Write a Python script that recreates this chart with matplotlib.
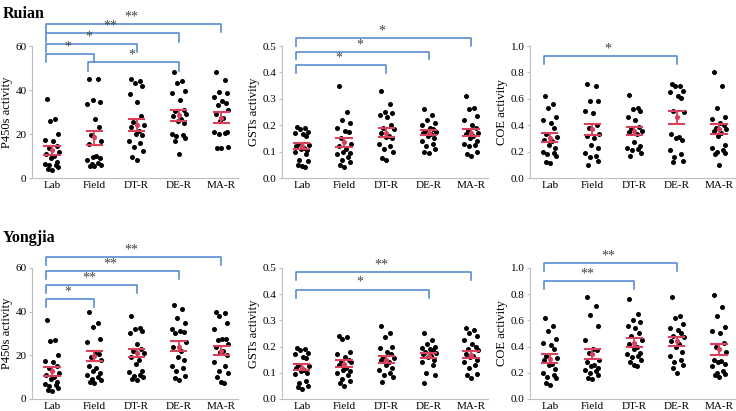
import matplotlib
matplotlib.use("Agg")
import matplotlib.pyplot as plt
import numpy as np

plt.rcParams['font.family'] = ['Liberation Serif', 'DejaVu Serif']

groups = ['Lab', 'Field', 'DT-R', 'DE-R', 'MA-R']

# ---- Ruian ----
ruian_p450 = [
    [36, 27, 26, 20, 17.5, 17, 14.5, 13.5, 12, 11, 10, 9, 7.5, 6.5, 6, 6, 5, 4, 3.5],
    [45.2, 45, 35.5, 34.5, 33.8, 27, 23, 19.5, 17, 15.5, 10, 9.5, 9, 8, 7, 6.5, 6, 5.5, 5.5],
    [45, 44, 43, 42, 38, 34.5, 28, 25.5, 24, 23, 21.5, 20, 19.5, 17, 16, 14, 12.5, 9.5, 8],
    [48, 44, 43, 39.5, 38.5, 35.5, 31, 30.5, 29, 28, 27, 26, 25, 20, 19.5, 19, 18, 17, 11],
    [48, 44.5, 39, 38.5, 37, 35, 34, 33, 31, 29, 27.5, 26, 21, 21, 20.5, 20, 14, 13.5, 13.5],
]
ruian_p450_mean = [12.8, 18.5, 24.0, 28.5, 27.3]
ruian_p450_lo = [10.6, 15.2, 21.4, 26.0, 24.8]
ruian_p450_hi = [14.6, 21.3, 27.0, 30.8, 29.8]

ruian_gst = [
    [0.195, 0.19, 0.185, 0.175, 0.17, 0.165, 0.16, 0.13, 0.125, 0.12, 0.115, 0.11, 0.105, 0.1, 0.09, 0.07, 0.065, 0.05, 0.045, 0.04],
    [0.35, 0.25, 0.22, 0.21, 0.19, 0.18, 0.175, 0.15, 0.13, 0.12, 0.11, 0.1, 0.095, 0.09, 0.08, 0.07, 0.06, 0.05, 0.04],
    [0.33, 0.28, 0.25, 0.245, 0.24, 0.23, 0.2, 0.19, 0.185, 0.17, 0.16, 0.155, 0.15, 0.13, 0.12, 0.11, 0.1, 0.075, 0.07],
    [0.26, 0.24, 0.22, 0.21, 0.2, 0.19, 0.185, 0.18, 0.175, 0.17, 0.165, 0.16, 0.15, 0.14, 0.13, 0.12, 0.11, 0.1, 0.095],
    [0.31, 0.265, 0.26, 0.235, 0.22, 0.2, 0.19, 0.18, 0.17, 0.165, 0.16, 0.15, 0.14, 0.13, 0.125, 0.12, 0.1, 0.09, 0.085],
]
ruian_gst_mean = [0.12, 0.135, 0.172, 0.17, 0.17]
ruian_gst_lo = [0.11, 0.118, 0.157, 0.163, 0.16]
ruian_gst_hi = [0.133, 0.152, 0.19, 0.182, 0.185]

ruian_coe = [
    [0.62, 0.56, 0.53, 0.46, 0.44, 0.42, 0.38, 0.33, 0.31, 0.29, 0.28, 0.25, 0.23, 0.2, 0.19, 0.18, 0.17, 0.12, 0.11],
    [0.71, 0.70, 0.58, 0.58, 0.51, 0.49, 0.40, 0.38, 0.33, 0.32, 0.30, 0.25, 0.23, 0.19, 0.17, 0.16, 0.13, 0.10],
    [0.63, 0.53, 0.52, 0.51, 0.46, 0.44, 0.39, 0.37, 0.36, 0.35, 0.33, 0.27, 0.24, 0.23, 0.22, 0.21, 0.19, 0.17],
    [0.71, 0.70, 0.70, 0.66, 0.65, 0.62, 0.61, 0.51, 0.50, 0.33, 0.31, 0.30, 0.29, 0.21, 0.18, 0.16, 0.13, 0.12],
    [0.80, 0.70, 0.53, 0.46, 0.45, 0.42, 0.40, 0.38, 0.37, 0.36, 0.34, 0.32, 0.25, 0.23, 0.21, 0.20, 0.19, 0.18, 0.10],
]
ruian_coe_mean = [0.305, 0.37, 0.36, 0.46, 0.37]
ruian_coe_lo = [0.275, 0.325, 0.325, 0.41, 0.335]
ruian_coe_hi = [0.34, 0.41, 0.39, 0.505, 0.41]

# ---- Yongjia ----
yongjia_p450 = [
    [36, 27, 26.5, 20, 17.5, 17, 15, 14, 12, 11, 10, 9, 8, 7, 6.5, 6, 5, 4, 3.5],
    [40, 35, 33, 27.5, 26, 21, 20.5, 19, 18, 15, 14, 13, 12, 11, 10, 9, 8.5, 8, 7.5],
    [38, 32.5, 32, 31, 30, 25, 23, 22, 21, 19, 18, 16, 13, 12.5, 11, 10.5, 10, 9, 8.5],
    [43, 41, 37, 35, 32, 31, 30.5, 30, 26, 24, 22, 19, 18, 15, 14, 13, 10.5, 9.5, 8.5],
    [40, 39.5, 38, 35, 32, 27.5, 27.5, 27, 25, 24, 22, 21.5, 20, 17, 15, 13, 12, 10, 8, 7.5],
]
yongjia_p450_mean = [12.8, 19.5, 21.0, 24.0, 22.0]
yongjia_p450_lo = [10.6, 17.2, 19.2, 21.8, 20.0]
yongjia_p450_hi = [14.8, 21.8, 23.0, 26.5, 24.3]

yongjia_gst = [
    [0.195, 0.19, 0.185, 0.175, 0.17, 0.16, 0.155, 0.13, 0.125, 0.12, 0.11, 0.105, 0.1, 0.095, 0.07, 0.06, 0.05, 0.045, 0.04],
    [0.24, 0.235, 0.23, 0.18, 0.17, 0.16, 0.15, 0.145, 0.14, 0.13, 0.12, 0.11, 0.105, 0.1, 0.09, 0.075, 0.07, 0.06, 0.05],
    [0.28, 0.25, 0.235, 0.2, 0.195, 0.18, 0.17, 0.16, 0.155, 0.15, 0.14, 0.13, 0.12, 0.11, 0.1, 0.09, 0.085, 0.065],
    [0.25, 0.225, 0.21, 0.2, 0.195, 0.19, 0.185, 0.18, 0.175, 0.17, 0.165, 0.16, 0.15, 0.14, 0.13, 0.1, 0.09, 0.06],
    [0.27, 0.265, 0.25, 0.24, 0.225, 0.21, 0.2, 0.19, 0.185, 0.17, 0.165, 0.16, 0.15, 0.14, 0.13, 0.12, 0.095, 0.09, 0.08],
]
yongjia_gst_mean = [0.12, 0.135, 0.15, 0.165, 0.168]
yongjia_gst_lo = [0.11, 0.122, 0.138, 0.155, 0.155]
yongjia_gst_hi = [0.133, 0.148, 0.163, 0.177, 0.182]

yongjia_coe = [
    [0.62, 0.56, 0.52, 0.46, 0.43, 0.41, 0.38, 0.33, 0.31, 0.30, 0.27, 0.26, 0.23, 0.20, 0.18, 0.17, 0.16, 0.12, 0.11],
    [0.78, 0.71, 0.64, 0.56, 0.45, 0.38, 0.37, 0.35, 0.30, 0.28, 0.26, 0.25, 0.24, 0.22, 0.21, 0.20, 0.18, 0.16, 0.15],
    [0.76, 0.65, 0.60, 0.59, 0.56, 0.54, 0.50, 0.48, 0.45, 0.42, 0.40, 0.38, 0.35, 0.34, 0.33, 0.32, 0.30, 0.28, 0.26, 0.25],
    [0.78, 0.63, 0.62, 0.57, 0.54, 0.53, 0.50, 0.48, 0.47, 0.44, 0.42, 0.40, 0.36, 0.33, 0.30, 0.28, 0.26, 0.24, 0.20],
    [0.79, 0.70, 0.63, 0.55, 0.52, 0.50, 0.43, 0.40, 0.36, 0.30, 0.29, 0.28, 0.27, 0.25, 0.21, 0.20, 0.19, 0.18, 0.17],
]
yongjia_coe_mean = [0.305, 0.345, 0.43, 0.44, 0.38]
yongjia_coe_lo = [0.275, 0.305, 0.40, 0.405, 0.335]
yongjia_coe_hi = [0.34, 0.385, 0.465, 0.475, 0.42]

# significance brackets: (group a, group b, line y, drop, label)
ruian_p450_sig = [(0, 4, 70, 3.8, '**'), (0, 3, 65.9, 4.0, '**'), (0, 2, 60.9, 3.6, '*'),
                  (0, 1, 56.4, 3.6, '*'), (1, 3, 52.7, 4.0, '*')]
ruian_gst_sig = [(0, 4, 0.530, 0.030, '*'), (0, 3, 0.477, 0.027, '*'), (0, 2, 0.428, 0.030, '*')]
ruian_coe_sig = [(0, 3, 0.923, 0.062, '*')]
yongjia_p450_sig = [(0, 4, 65.0, 3.6, '**'), (0, 3, 58.6, 3.6, '**'), (0, 2, 52.2, 3.7, '**'),
                    (0, 1, 45.8, 3.7, '*')]
yongjia_gst_sig = [(0, 4, 0.485, 0.030, '**'), (0, 3, 0.417, 0.031, '*')]
yongjia_coe_sig = [(0, 3, 1.038, 0.061, '**'), (0, 2, 0.901, 0.061, '**')]

jitter = [-0.12, 0.08, -0.04, 0.14, -0.16, 0.02, 0.11, -0.08, 0.17, -0.13,
          0.05, -0.02, 0.13, -0.17, 0.09, -0.06, 0.15, -0.1, 0.0, 0.07]

RED = '#d8405c'
BLUE = '#4a82cf'
GRAY = '#bfbfbf'

fig = plt.figure(figsize=(7.36, 4.11), dpi=100)

lefts = [0.0435, 0.383, 0.720]
rows = [(0.5669, 0.321), (0.0292, 0.319)]


def panel(ax, data, mean, lo, hi, ylim, yticks, ylabel, sig):
    for i, vals in enumerate(data):
        xs = [i + jitter[k % len(jitter)] for k in range(len(vals))]
        ax.scatter(xs, vals, s=13, color='black', zorder=3, linewidths=0)
        ax.plot([i, i], [lo[i], hi[i]], color=RED, lw=1.3, zorder=4)
        for v in (lo[i], hi[i]):
            ax.plot([i - 0.18, i + 0.18], [v, v], color=RED, lw=1.5, zorder=4)
        ax.scatter([i], [mean[i]], s=14, color=RED, zorder=5, linewidths=0)
    ax.set_xlim(-0.47, 4.4)
    ax.set_ylim(*ylim)
    ax.set_yticks(yticks)
    ax.set_xticks(range(len(groups)))
    ax.set_xticklabels(groups, fontsize=8)
    ax.set_ylabel(ylabel, fontsize=9, labelpad=2)
    ax.tick_params(axis='y', labelsize=8, length=2.5, color=GRAY, pad=1.5)
    ax.tick_params(axis='x', length=0, pad=2)
    for s in ('top', 'right'):
        ax.spines[s].set_visible(False)
    for s in ('left', 'bottom'):
        ax.spines[s].set_color(GRAY)
        ax.spines[s].set_linewidth(0.8)
    for a, b, y, d, lab in sig:
        xa = a - 0.14
        xb = b
        ax.plot([xa, xa, xb, xb], [y - d, y, y, y - d], color=BLUE, lw=1.1,
                clip_on=False, zorder=2)
        ax.text((xa + xb) / 2 - 0.05, y + d * 0.08, lab, ha='center', va='bottom',
                fontsize=10, color='#444444', clip_on=False)


panels = [
    [(ruian_p450, ruian_p450_mean, ruian_p450_lo, ruian_p450_hi, (0, 60), [0, 20, 40, 60], 'P450s activity', ruian_p450_sig),
     (ruian_gst, ruian_gst_mean, ruian_gst_lo, ruian_gst_hi, (0, 0.5), [0, 0.1, 0.2, 0.3, 0.4, 0.5], 'GSTs activity', ruian_gst_sig),
     (ruian_coe, ruian_coe_mean, ruian_coe_lo, ruian_coe_hi, (0, 1.0), [0, 0.2, 0.4, 0.6, 0.8, 1.0], 'COE activity', ruian_coe_sig)],
    [(yongjia_p450, yongjia_p450_mean, yongjia_p450_lo, yongjia_p450_hi, (0, 60), [0, 20, 40, 60], 'P450s activity', yongjia_p450_sig),
     (yongjia_gst, yongjia_gst_mean, yongjia_gst_lo, yongjia_gst_hi, (0, 0.5), [0, 0.1, 0.2, 0.3, 0.4, 0.5], 'GSTs activity', yongjia_gst_sig),
     (yongjia_coe, yongjia_coe_mean, yongjia_coe_lo, yongjia_coe_hi, (0, 1.0), [0, 0.2, 0.4, 0.6, 0.8, 1.0], 'COE activity', yongjia_coe_sig)],
]

for r, (bottom, height) in enumerate(rows):
    for c, left in enumerate(lefts):
        ax = fig.add_axes([left, bottom, 0.280, height])
        args = panels[r][c]
        panel(ax, *args)
        if c == 0:
            ax.yaxis.set_major_formatter(matplotlib.ticker.FormatStrFormatter('%d'))
        else:
            ax.yaxis.set_major_formatter(matplotlib.ticker.FormatStrFormatter('%.1f'))

fig.text(0.004, 0.985, 'Ruian', fontsize=11.5, fontweight='bold', va='top', ha='left')
fig.text(0.004, 0.44, 'Yongjia', fontsize=11.5, fontweight='bold', va='top', ha='left')

fig.savefig('out.png', dpi=100)
